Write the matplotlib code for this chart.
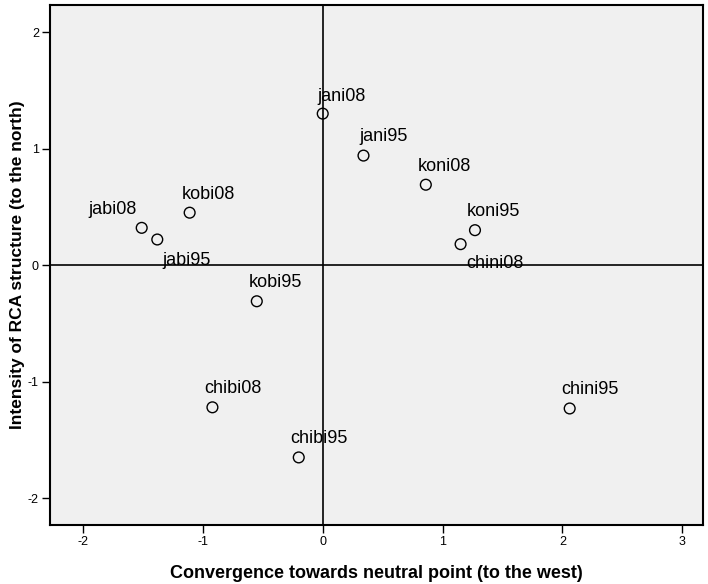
# Scatter of RCA structure positions with point labels.
import matplotlib.pyplot as plt

# Data.
names = ["jani08", "jani95", "koni08", "koni95", "chini08", "chini95",
         "kobi08", "jabi08", "jabi95", "kobi95", "chibi08", "chibi95"]
x_vals = [0.00, 0.34, 0.86, 1.27, 1.15, 2.06,
          -1.11, -1.51, -1.38, -0.55, -0.92, -0.20]
y_vals = [1.30, 0.94, 0.69, 0.30, 0.18, -1.23,
          0.45, 0.32, 0.22, -0.31, -1.22, -1.65]
x_ticks = [-2, -1, 0, 1, 2, 3]
y_ticks = [-2, -1, 0, 1, 2]

# Label offsets in pixels (dx, dy, horizontal alignment).
offsets = {
    "jabi08": (-5, 14, "right"),
    "jabi95": (5, -26, "left"),
    "chini08": (6, -24, "left"),
    "jani08": (-5, 13, "left"),
    "jani95": (-4, 15, "left"),
}

plt.rcParams["font.family"] = ["Liberation Sans", "DejaVu Sans"]
plt.rcParams["axes.unicode_minus"] = False

fig = plt.figure(figsize=(7.08, 5.84), dpi=100)
ax = fig.add_axes([0.0706, 0.101, 0.922, 0.890])
ax.set_facecolor("#f0f0f0")

# Reference lines through the origin.
ax.axhline(0, color="black", linewidth=1.2, zorder=1)
ax.axvline(0, color="black", linewidth=1.2, zorder=1)

ax.scatter(x_vals, y_vals, s=60, facecolors="none", edgecolors="black",
           linewidths=1.0, zorder=3)

for name, x, y in zip(names, x_vals, y_vals):
    dx, dy, ha = offsets.get(name, (-8, 14, "left"))
    ax.annotate(name, (x, y), xytext=(dx, dy), textcoords="offset pixels",
                ha=ha, va="baseline", fontsize=13, zorder=4)

ax.set_xlim(-2.275, 3.17)
ax.set_ylim(-2.23, 2.23)
ax.set_xticks(x_ticks)
ax.set_yticks(y_ticks)
ax.tick_params(axis="both", direction="out", length=6, width=1, pad=2,
               labelsize=9, top=False, right=False)
for spine in ax.spines.values():
    spine.set_linewidth(1.5)

ax.set_xlabel("Convergence towards neutral point (to the west)",
              fontweight="bold", fontsize=13, labelpad=12)
ax.set_ylabel("Intensity of RCA structure (to the north)",
              fontweight="bold", fontsize=12.5, labelpad=2)

plt.savefig("out.png", dpi=100)
